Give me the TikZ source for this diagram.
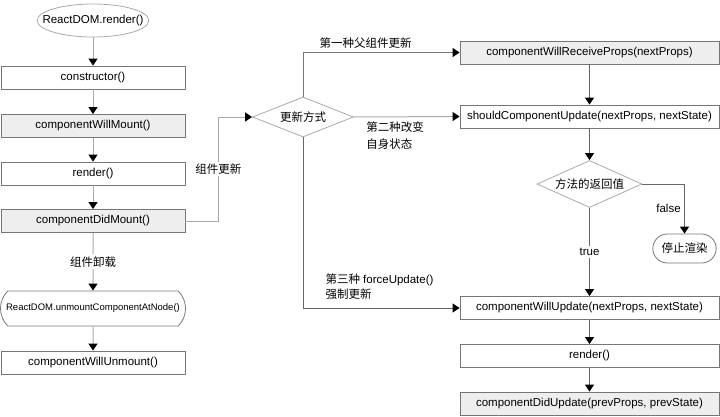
\documentclass[tikz,border=0pt]{standalone}
\usepackage{fontspec}
\setmainfont{Liberation Sans}
\newfontfamily\cjk{Noto Sans CJK SC}
\usetikzlibrary{arrows.meta, shapes.geometric, shapes.misc}
\definecolor{boxLine}{RGB}{118,118,118}
\definecolor{boxFill}{RGB}{238,238,238}
\definecolor{lightLine}{RGB}{170,170,170}
\definecolor{darkLine}{RGB}{102,102,102}

\tikzset{
  stage/.style={draw=boxLine, line width=0.8pt, minimum height=23pt, inner sep=0pt},
  stageL/.style={stage, minimum width=184pt},
  stageR/.style={stage, minimum width=259pt},
  hook/.style={fill=boxFill},
  choice/.style={diamond, draw=lightLine, line width=0.8pt, inner sep=0pt},
  flow/.style={line width=1pt, -{Triangle[width=9pt, length=7pt, black]}},
  note/.style={text=black, font=\fontsize{11.5}{14.5}\selectfont},
  zh/.style={text=black, font=\fontsize{11.5}{17}\selectfont\cjk}
}

\begin{document}
\begin{tikzpicture}[x=1pt, y=-1pt, font=\fontsize{11.5}{14}\selectfont]
  \useasboundingbox (0,0) rectangle (720,416);

  % Mounting
  \node[ellipse, draw=lightLine, line width=0.8pt, inner xsep=-11pt, inner ysep=0pt, minimum height=33pt] (start) at (93,20.5) {ReactDOM.render()};
  \node[stageL] (ctor) at (93,77.5) {constructor()};
  \node[stageL, hook] (willMount) at (93,126) {componentWillMount()};
  \node[stageL] (render) at (93,173.5) {render()};
  \node[stageL, hook] (didMount) at (93,221) {componentDidMount()};
  \node[rounded rectangle, rounded rectangle arc length=90, draw=boxLine, line width=0.8pt,
    minimum width=185pt, minimum height=35pt, inner xsep=0pt, font=\fontsize{9.5}{11}\selectfont]
    (unmountAt) at (93,308.5) {ReactDOM.unmountComponentAtNode()};
  \node[stageL] (willUnmount) at (93,362.5) {componentWillUnmount()};

  \foreach \a/\b in {start/ctor, ctor/willMount, willMount/render, render/didMount, unmountAt/willUnmount}
    \draw[flow, lightLine] (\a) -- (\b);
  \draw[flow, lightLine] (didMount) -- node[zh, fill=white, inner sep=2pt] {组件卸载} (unmountAt);

  % Updating
  \node[choice, aspect=2.5, minimum width=101pt, minimum height=40pt, zh] (mode) at (303,117) {更新方式};
  \node[stageR, hook] (receive) at (589.5,52.5) {componentWillReceiveProps(nextProps)};
  \node[stageR] (should) at (589.5,116.5) {shouldComponentUpdate(nextProps, nextState)};
  \node[choice, aspect=2.2, minimum width=105pt, minimum height=47pt, zh] (result) at (589.5,184) {方法的返回值};
  \node[rounded rectangle, draw=boxLine, line width=0.8pt, minimum width=70pt, minimum height=29pt, zh]
    (stop) at (684.5,248.5) {停止渲染};
  \node[stageR] (willUpdate) at (589.5,308) {componentWillUpdate(nextProps, nextState)};
  \node[stageR] (render2) at (589.5,356) {render()};
  \node[stageR, hook] (didUpdate) at (589.5,403.5) {componentDidUpdate(prevProps, prevState)};

  \draw[flow, lightLine] (didMount.east) -- ++(33,0) |- node[pos=0.25, zh, fill=white, inner sep=2pt] {组件更新} (mode.west);
  \draw[flow, boxLine] (mode.north) |- node[pos=0.7, above, zh] {第一种父组件更新} (receive.west);
  \draw[flow, lightLine] (mode.east) -- node[pos=0, anchor=north west, xshift=12pt, yshift=-4pt, inner sep=0pt, align=left, zh]
    {第二种改变\\自身状态} (should.west);
  \draw[flow, darkLine] (mode.south) |- node[pos=0.5, anchor=south west, xshift=22pt, yshift=8pt, inner sep=0pt, align=left, note]
    {{\cjk 第三种} forceUpdate()\\{\cjk 强制更新}} (willUpdate.west);

  \draw[flow, darkLine] (receive) -- (should);
  \draw[flow, darkLine] (should) -- (result);
  \draw[flow, darkLine] (result.east) -| node[pos=0.75, left, note] {false} (stop.north);
  \draw[flow, darkLine] (result.south) -- node[note, fill=white, inner sep=2pt] {true} (willUpdate.north);
  \draw[flow, darkLine] (willUpdate) -- (render2);
  \draw[flow, darkLine] (render2) -- (didUpdate);
\end{tikzpicture}
\end{document}
